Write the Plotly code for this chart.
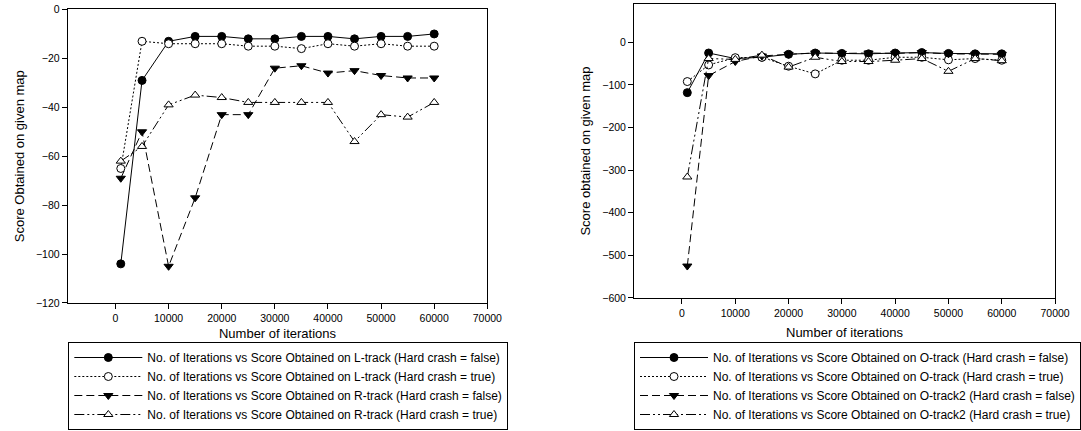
import plotly.graph_objects as go

iterations = [1000, 5000, 10000, 15000, 20000, 25000, 30000, 35000, 40000, 45000, 50000, 55000, 60000]
x_ticks = [0, 10000, 20000, 30000, 40000, 50000, 60000, 70000]

# Left chart
l_track_false = [-104, -29, -13, -11, -11, -12, -12, -11, -11, -12, -11, -11, -10]
l_track_true = [-65, -13, -14, -14, -14, -15, -15, -16, -14, -15, -14, -15, -15]
r_track_false = [-69, -50, -105, -77, -43, -43, -24, -23, -26, -25, -27, -28, -28]
r_track_true = [-62, -56, -39, -35, -36, -38, -38, -38, -38, -54, -43, -44, -38]

# Right chart
o_track_false = [-118, -25, -38, -35, -28, -25, -26, -27, -25, -24, -26, -27, -27]
o_track_true = [-92, -53, -36, -35, -56, -74, -42, -42, -35, -35, -41, -38, -42]
o_track2_false = [-525, -78, -45, -32, -28, -25, -26, -25, -26, -24, -27, -28, -28]
o_track2_true = [-316, -38, -40, -30, -58, -35, -45, -45, -42, -38, -68, -38, -43]

left_names = [
    "No. of Iterations vs Score Obtained on L-track (Hard crash = false)",
    "No. of Iterations vs Score Obtained on L-track (Hard crash = true)",
    "No. of Iterations vs Score Obtained on R-track (Hard crash = false)",
    "No. of Iterations vs Score Obtained on R-track (Hard crash = true)",
]
right_names = [
    "No. of Iterations vs Score Obtained on O-track (Hard crash = false)",
    "No. of Iterations vs Score Obtained on O-track (Hard crash = true)",
    "No. of Iterations vs Score Obtained on O-track2 (Hard crash = false)",
    "No. of Iterations vs Score Obtained on O-track2 (Hard crash = true)",
]

styles = [
    dict(dash="solid", symbol="circle", fill="black"),
    dict(dash="2px,2px", symbol="circle", fill="white"),
    dict(dash="8px,4px", symbol="triangle-down", fill="black"),
    dict(dash="10px,3px,2px,3px,2px,3px", symbol="triangle-up", fill="white"),
]

FONT = "Liberation Sans, Arial, sans-serif"

fig = go.Figure()

def add_series(seriess, names, xa, ya, lg):
    for series, name, st in zip(seriess, names, styles):
        fig.add_trace(go.Scatter(
            x=iterations, y=series, name=name, mode="lines+markers",
            line=dict(color="black", width=1, dash=st["dash"]),
            marker=dict(symbol=st["symbol"], size=8, color=st["fill"],
                        line=dict(color="black", width=1)),
            xaxis=xa, yaxis=ya, legend=lg,
        ))

add_series([l_track_false, l_track_true, r_track_false, r_track_true], left_names, "x", "y", "legend")
add_series([o_track_false, o_track_true, o_track2_false, o_track2_true], right_names, "x2", "y2", "legend2")

axis_common = dict(
    showline=True, linecolor="black", linewidth=1, mirror=True,
    ticks="outside", ticklen=5, tickcolor="black", tickwidth=1,
    showgrid=False, zeroline=False, automargin=False,
    tickfont=dict(family=FONT, size=10.5, color="black"),
)

legend_common = dict(
    bordercolor="black", borderwidth=1, bgcolor="white",
    font=dict(family=FONT, size=12, color="black"),
    xanchor="left", yanchor="top", itemwidth=68,
    tracegroupgap=0,
)

title_font = dict(family=FONT, size=13, color="black")

fig.update_layout(
    width=1081, height=431,
    margin=dict(l=0, r=0, t=0, b=0, autoexpand=False),
    paper_bgcolor="white", plot_bgcolor="white",
    font=dict(family=FONT, color="black"),
    xaxis=dict(domain=[0.0626, 0.4508], range=[-9000, 70000], tickvals=x_ticks, tickformat="d",
               title=dict(text="Number of iterations", font=title_font, standoff=6),
               anchor="y", **axis_common),
    yaxis=dict(domain=[0.297, 0.978], range=[-120, 0], dtick=20,
               title=dict(text="Score Obtained on given map", font=title_font, standoff=8),
               anchor="x", **axis_common),
    xaxis2=dict(domain=[0.5865, 0.976], range=[-9000, 70000], tickvals=x_ticks, tickformat="d",
                title=dict(text="Number of iterations", font=title_font, standoff=10),
                anchor="y2", **axis_common),
    yaxis2=dict(domain=[0.3086, 0.9907], range=[-600, 90], dtick=100,
                title=dict(text="Score obtained on given map", font=title_font, standoff=8),
                anchor="x2", **axis_common),
    legend=dict(x=0.0632, y=(431 - 342) / 431, **legend_common),
    legend2=dict(x=0.5865, y=(431 - 342) / 431, **legend_common),
)

fig.write_html("out.html")
